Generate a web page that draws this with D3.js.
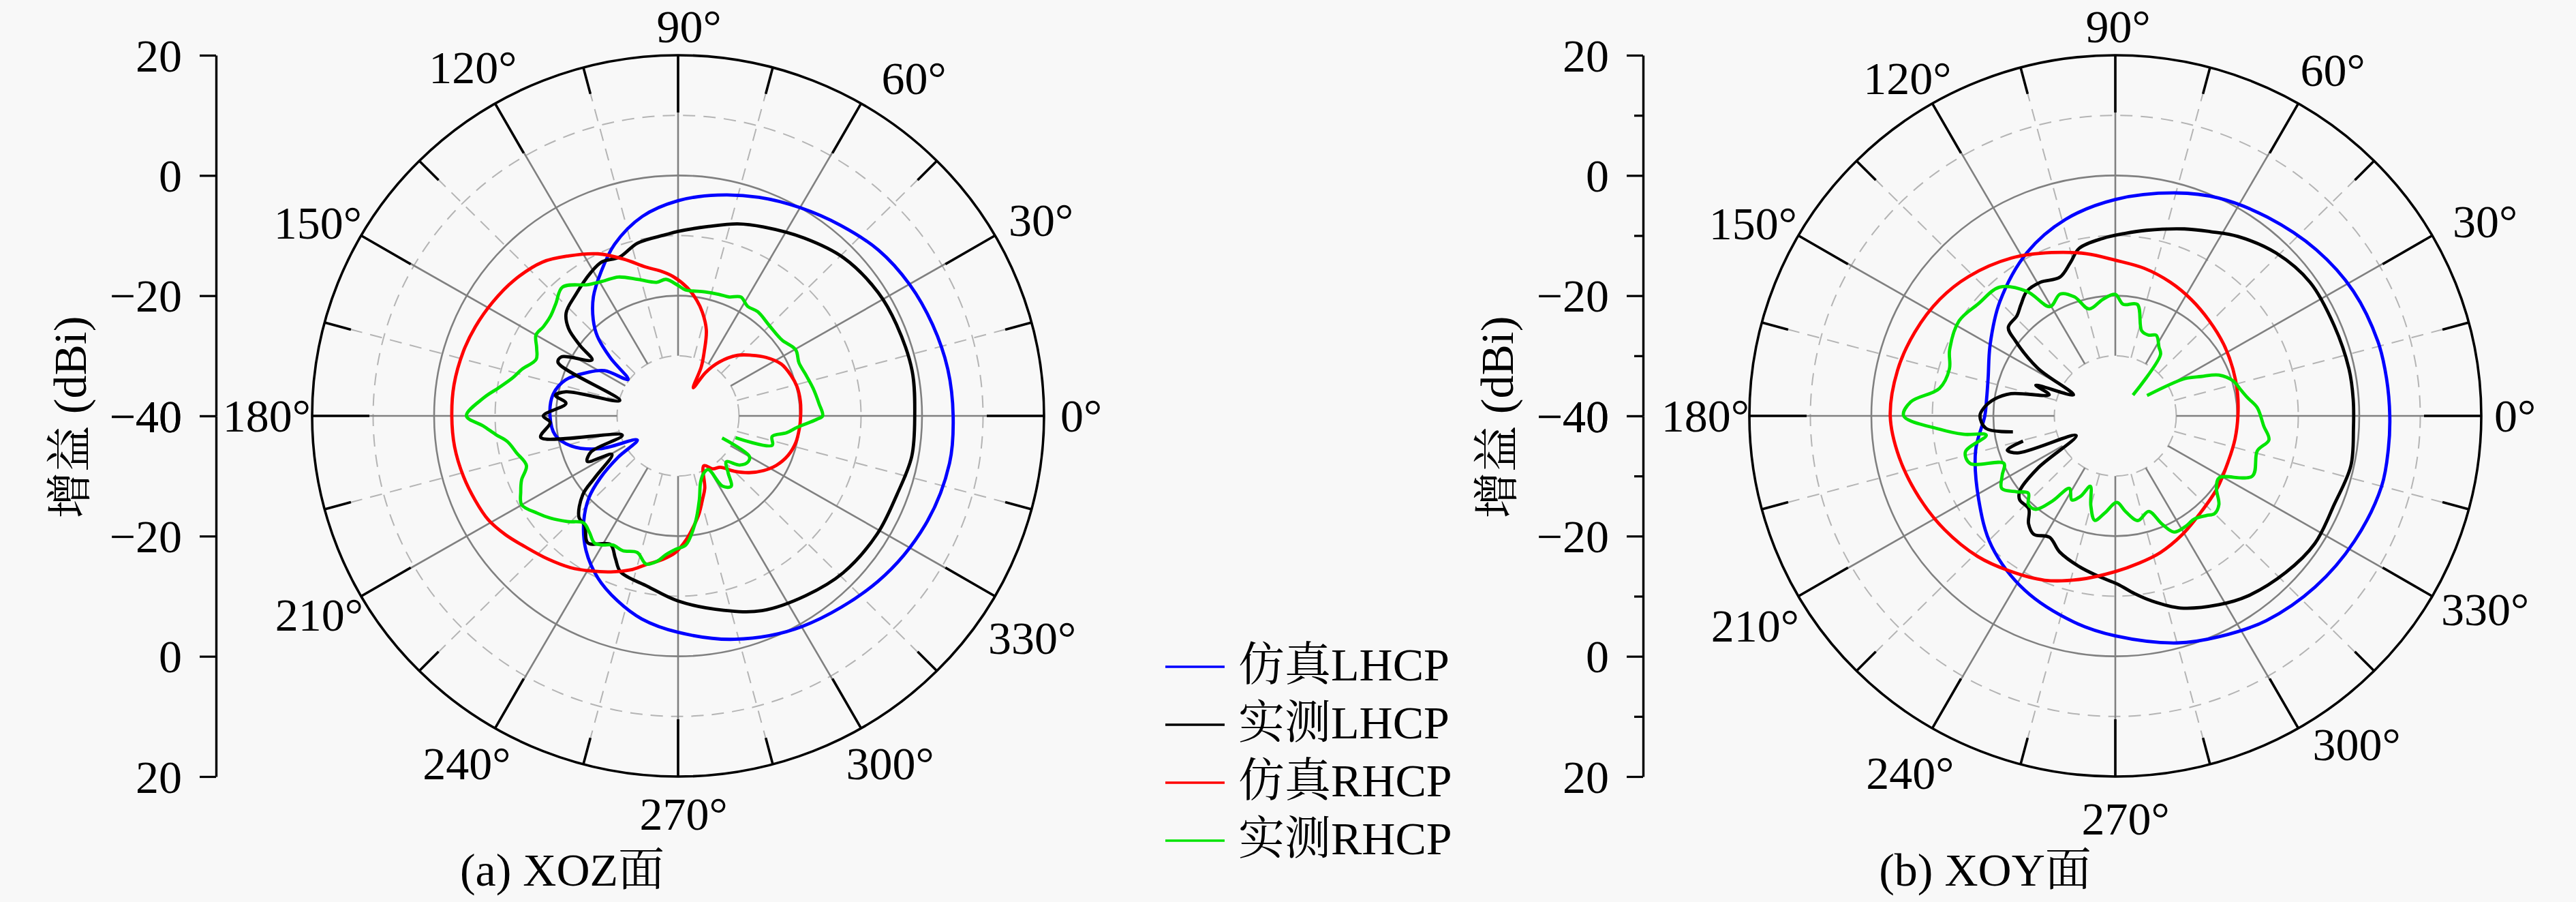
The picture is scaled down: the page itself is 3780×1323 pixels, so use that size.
<!DOCTYPE html>
<html>
<head>
<meta charset="utf-8">
<script src="https://cdn.jsdelivr.net/npm/d3@7/dist/d3.min.js"></script>
<style>
  html, body { margin: 0; padding: 0; background: #f8f8f8; }
  svg { display: block; }
  text { font-family: "Liberation Serif", "Noto Serif CJK SC", "Noto Sans CJK SC", serif; fill: #000; }
</style>
</head>
<body>
<svg id="chart" width="3780" height="1323"></svg>
<script>
// gain samples as [angle (deg), gain (dBi)], listed in drawing order
// measured traces are not closed: they start and stop where the record breaks

// (a) XOZ plane
var xozSimLHCP = [[0,5.1],[10,4.9],[20,4.4],[30,3.8],[40,2.9],[50,1.4],[60,0],[70,-1.3],[80,-2.7],[90,-4.2],
  [100,-6.3],[110,-9.6],[118,-13],[125,-15.8],[131,-18.8],[135,-21.3],[139,-25.3],[143.5,-29.8],[148,-25.8],
  [154,-23.5],[162,-20.6],[170,-19.2],[180,-19],[189,-19.6],[196,-21.8],[203,-26],[211,-32.2],[215,-28],
  [219,-23.6],[223,-20],[229,-16.4],[236,-13],[244,-10],[252,-7.7],[260,-5.7],[270,-4],[284,-1.7],[300,0.5],
  [320,2.8],[336,4.4],[350,5.2]];
var xozMeasLHCP = [[0,-1.2],[11,-0.9],[23,-1.1],[32,-1.3],[44,-2.2],[55,-3.9],[66,-5.6],[73,-6.6],[81,-8.1],
  [90,-9.3],[94,-9.8],[103,-10.5],[110,-11.9],[116,-11.5],[121,-12.2],[130,-13.8],[137,-14.9],[141,-16.9],
  [144,-20.2],[146.6,-23.1],[152.8,-18.5],[155.7,-18.4],[165,-30.1],[167.7,-21.2],[170.4,-19.6],[173.5,-21.5],
  [180,-17.9],[183,-19],[189,-17.2],[199.4,-30.3],[202.8,-24.5],[207,-23.3],[210.6,-27.4],[216.9,-23],
  [220,-19.6],[226,-16.6],[230,-16.2],[235,-14.2],[242.6,-15.9],[246.5,-14.2],[250,-12.4],[260,-11.2],
  [270,-9.2],[283,-6.8],[293,-4.8],[305,-3.5],[316,-2.4],[329,-1.9],[340,-1.8],[350,-1.1]];
var xozSimRHCP = [[0,-19.9],[7,-19.8],[14,-19.9],[20,-20.3],[27,-21],[34,-22.6],[40,-24.3],[46,-26],[53,-28.8],
  [58,-31.5],[62,-34.7],[65,-31],[68,-28.6],[72,-25],[77,-22.3],[81,-20.5],[86,-18.6],[92,-16.8],[97,-15.7],
  [102,-14.7],[109,-12.4],[116,-10],[124,-7.9],[131,-6.1],[140,-4.9],[148,-4.2],[156,-3.6],[163,-3.2],
  [172,-2.9],[180,-2.9],[188,-3],[196,-3.4],[203,-3.9],[209,-4.4],[215,-5.5],[221,-6.8],[228,-8],[235,-9.2],
  [241,-10.5],[247,-11.8],[253,-13.2],[258,-14.7],[264,-16],[269,-17.3],[274,-19.5],[278,-21.5],[282,-23.4],
  [286,-25.5],[290,-27.2],[297,-30.7],[303,-29.5],[309,-29],[315,-27],[321,-25],[327,-23.3],[333,-21.9],
  [340,-20.8],[347,-20.2],[354,-20]];
var xozMeasRHCP = [[339,-29.9],[342.4,-23.8],[347.5,-24.2],[351,-22],[354.4,-20.4],[358.5,-17.3],[0,-16.3],
  [5,-16.8],[11.8,-17.4],[18.5,-18],[24,-18.3],[29.7,-17.8],[36.5,-18.8],[45,-18.8],[53,-18.3],[58,-18.5],
  [62.5,-17.7],[67,-18.5],[71.6,-18.7],[78,-18.9],[86.7,-19],[90,-18.3],[95,-17.2],[99,-17.5],[106,-16.4],
  [113,-14.9],[118,-14.5],[123.8,-13.7],[131.5,-11.4],[137,-12.6],[141.5,-13.3],[146,-13.4],[150,-13.1],
  [154,-14.2],[158,-14.9],[163,-13.3],[167,-12.1],[171,-10.2],[174.6,-8],[180,-5.3],[183,-8],[186,-10],
  [188.7,-11.7],[193,-12.8],[198.4,-13.8],[202.6,-12.2],[206,-11.3],[210,-10.4],[215,-11.8],[219,-13],
  [224,-14.7],[229,-16.4],[233,-15.8],[237,-14.8],[240,-15.2],[243.5,-16],[248,-15.8],[253.6,-16.3],
  [258,-14.8],[262,-15.6],[265,-16.8],[269,-17.8],[273.4,-18.5],[279,-22],[284,-25.6],[288.6,-28.4],
  [294,-29.6],[299,-29.8],[302,-26.2],[306.6,-25.4],[311,-27.5],[316,-29],[321,-27],[326.6,-26.2],
  [330,-26.5],[333,-31.9]];

// (b) XOY plane
var xoySimLHCP = [[0,5],[8,4.9],[16,4.8],[28,4.2],[40,3],[53,1.4],[65,0],[75,-1.6],[90,-4],[104,-6.3],
  [118,-9.2],[135,-13.2],[150,-16.3],[163,-18.2],[172,-18.7],[180,-18.6],[194,-16.4],[212,-13.6],[227,-10.3],
  [243,-7.4],[259,-5],[270,-3.4],[285,-0.9],[295,0.5],[306,2.1],[319,3.4],[332,4.4],[345,5.2],[353,5.1]];
var xoyMeasLHCP = [[195.5,-24.3],[197.8,-21.4],[201,-22.8],[207,-32.8],[214.4,-24.6],[218.5,-20],[221.7,-19],
  [227.5,-19],[231.6,-17.1],[235.8,-16.2],[241.9,-17.1],[248,-15.6],[257,-14.2],[264,-13.2],[270.8,-12],
  [276,-10.3],[280.8,-8.7],[288.5,-6.3],[298.4,-4.3],[305.9,-3],[317,-1.8],[327,-1],[337.7,-1.2],[347.9,-0.5],
  [357,-0.9],[4,-0.9],[11.5,-0.9],[22.7,-1.1],[34.8,-1.1],[45.8,-2.2],[56,-4],[63,-5.6],[70,-6.9],
  [80.6,-8.7],[87,-9.6],[94,-10.4],[102,-11.5],[106,-13.4],[111.5,-15.2],[119,-14.6],[125,-14.7],
  [130,-15.9],[134,-16.8],[140,-17.1],[142.7,-19.4],[148,-25],[153,-32.3],[158.6,-26],[162,-28.6],
  [167.8,-22.5],[172,-20],[176.5,-18.4],[180,-17.8],[185.6,-18.7],[189,-23]];
var xoySimRHCP = [[0,-19.9],[11,-19.6],[22,-19.2],[34,-18.6],[46,-17.9],[57,-17],[68,-16],[79,-15],[90,-14.1],
  [100,-12.6],[111,-10.9],[123,-8.7],[136,-6.6],[146,-5.3],[157,-4.3],[168,-3.5],[180,-3.1],[191,-3.9],
  [203,-5.1],[214,-6.2],[226,-7.5],[236,-8.9],[247,-10.3],[258,-12.2],[270,-14.1],[279,-15.2],[288,-16.1],
  [299,-17.4],[310,-18.6],[324,-19.4],[338,-20],[349,-20]];
var xoyMeasRHCP = [[50,-35.5],[54,-27.4],[58,-26.5],[63.4,-25],[68,-25.5],[73,-25.2],[79,-21.1],[86,-21.4],
  [90,-19.8],[96,-20.5],[103.6,-21.7],[108.7,-19.1],[114,-17.8],[120.5,-18.9],[125,-14.7],[131.5,-11.4],
  [140.4,-10.8],[148.3,-9.9],[158,-10.7],[164,-11.7],[171,-10.8],[176,-6.4],[180,-5.3],[184.4,-11.1],
  [187,-14.9],[188.6,-18.6],[193.7,-14.7],[198.4,-14.9],[203.4,-20.1],[208,-19],[213,-17.8],[218,-19.5],
  [222,-20.8],[226,-19.5],[230,-19.7],[234,-22.5],[238,-25.8],[243,-24.3],[247,-25.5],[250.7,-27.6],
  [255,-24.5],[259,-22.3],[264,-23.8],[271,-25.6],[276,-24],[282,-22.2],[289,-23.2],[293,-20.5],
  [296.5,-18.4],[302,-18.3],[307,-18.5],[312,-17.7],[315,-17],[319,-17.5],[324,-19.5],[328.8,-20.1],
  [336,-15.4],[346,-16],[351,-14.5],[356,-15.6],[3.4,-16.7],[7.9,-18.1],[12,-19],[16.7,-19.8],[21.8,-21.7],
  [25,-24.5],[28.5,-27],[33,-33.8]];

var seriesNames = ['仿真LHCP', '实测LHCP', '仿真RHCP', '实测RHCP'];
var closedSeries = [true, true, true, false];      // per series, panel (a)
var closedSeriesB = [true, false, true, false];    // per series, panel (b)
var angleTicks = [0, 30, 60, 90, 120, 150, 180, 210, 240, 270, 300, 330];
var minorAngles = [15, 45, 75, 105, 135, 165, 195, 225, 255, 285, 315, 345];
var gainTicks = [-40, -20, 0, 20];
var gainMinor = [-30, -10, 10];
var gainMin = -40, gainMax = 20;

// styles / layout
var colors = ['#0000ff', '#000000', '#ff0000', '#00e400'];
var FS = 68;
var RX = 537, RY = 529, CY = 610;

var svg = d3.select('#chart');
svg.append('rect').attr('width', 3780).attr('height', 1323).attr('fill', '#f8f8f8');

var panels = [
  { caption: '(a) XOZ面', cx: 995, axisX: 317, capX: 825, minor: false,
    series: [xozSimLHCP, xozMeasLHCP, xozSimRHCP, xozMeasRHCP], closed: closedSeries,
    // label placement: [dx, dy(baseline), anchor] relative to the rim point
    nudge: { 0: [24, 23, 'start'], 30: [20, 0, 'start'], 60: [30, -14, 'start'], 90: [16, -19, 'middle'],
             120: [32, -30, 'end'], 150: [1, 4, 'end'], 180: [-2, 23, 'end'], 210: [3, 50, 'end'],
             240: [23, 75, 'end'], 270: [8, 78, 'middle'], 300: [-22, 75, 'start'], 330: [-10, 84, 'start'] } },
  { caption: '(b) XOY面', cx: 3104, axisX: 2411, capX: 2913, minor: true,
    series: [xoySimLHCP, xoyMeasLHCP, xoySimRHCP, xoyMeasRHCP], closed: closedSeriesB,
    nudge: { 0: [19, 23, 'start'], 30: [30, 2, 'start'], 60: [3, -26, 'start'], 90: [4, -19, 'middle'],
             120: [28, -14, 'end'], 150: [-2, 5, 'end'], 180: [0, 23, 'end'], 210: [1, 66, 'end'],
             240: [32, 89, 'end'], 270: [15, 85, 'middle'], 300: [21, 47, 'start'], 330: [13, 42, 'start'] } }
];

var rx = d3.scaleLinear().domain([gainMin, gainMax]).range([0, RX]);
var ry = d3.scaleLinear().domain([gainMin, gainMax]).range([0, RY]);
var fmt = function (d) { return d < 0 ? '\u2212' + Math.abs(d) : String(d); };

function point(p, v, deg) {
  var a = deg * Math.PI / 180;
  return [p.cx + rx(v) * Math.cos(a), CY - ry(v) * Math.sin(a)];
}

panels.forEach(function (p) {
  var g = svg.append('g');

  // grid circles
  [-30, -10, 10].forEach(function (v) {
    g.append('ellipse').attr('cx', p.cx).attr('cy', CY).attr('rx', rx(v)).attr('ry', ry(v))
      .attr('fill', 'none').attr('stroke', '#b4b4b4').attr('stroke-width', 2).attr('stroke-dasharray', '18,12');
  });
  [-20, 0].forEach(function (v) {
    g.append('ellipse').attr('cx', p.cx).attr('cy', CY).attr('rx', rx(v)).attr('ry', ry(v))
      .attr('fill', 'none').attr('stroke', '#808080').attr('stroke-width', 2.6);
  });

  // spokes
  minorAngles.forEach(function (a) {
    var s = point(p, -30, a), e = point(p, gainMax, a);
    g.append('line').attr('x1', s[0]).attr('y1', s[1]).attr('x2', e[0]).attr('y2', e[1])
      .attr('stroke', '#b4b4b4').attr('stroke-width', 2).attr('stroke-dasharray', '18,12');
  });
  angleTicks.forEach(function (a) {
    var s = point(p, -30, a), e = point(p, gainMax, a);
    g.append('line').attr('x1', s[0]).attr('y1', s[1]).attr('x2', e[0]).attr('y2', e[1])
      .attr('stroke', '#808080').attr('stroke-width', 2.6);
  });

  // outer rim and inward ticks
  g.append('ellipse').attr('cx', p.cx).attr('cy', CY).attr('rx', rx(gainMax)).attr('ry', ry(gainMax))
    .attr('fill', 'none').attr('stroke', '#000').attr('stroke-width', 3.6);
  function rimTick(a, len) {
    var e = point(p, gainMax, a);
    var r = Math.PI * a / 180;
    g.append('line').attr('x1', e[0]).attr('y1', e[1])
      .attr('x2', e[0] - len * Math.cos(r)).attr('y2', e[1] + len * Math.sin(r))
      .attr('stroke', '#000').attr('stroke-width', 3.6);
  }
  angleTicks.forEach(function (a) { rimTick(a, 84); });
  minorAngles.forEach(function (a) { rimTick(a, 40); });

  // angle labels
  angleTicks.forEach(function (a) {
    var e = point(p, gainMax, a), n = p.nudge[a];
    g.append('text').attr('x', e[0] + n[0]).attr('y', e[1] + n[1])
      .attr('text-anchor', n[2]).attr('font-size', FS).text(a + '°');
  });

  // traces
  p.series.forEach(function (data, i) {
    var line = d3.line()
      .x(function (d) { return point(p, d[1], d[0])[0]; })
      .y(function (d) { return point(p, d[1], d[0])[1]; })
      .curve(p.closed[i] ? d3.curveCatmullRomClosed.alpha(0.5) : d3.curveCatmullRom.alpha(0.5));
    g.append('path').datum(data).attr('d', line)
      .attr('fill', 'none').attr('stroke', colors[i]).attr('stroke-width', 4.8)
      .attr('stroke-linejoin', 'round');
  });

  // radial gain axis on the left, mirrored about the centre
  var up = d3.scaleLinear().domain([gainMin, gainMax]).range([CY, CY - RY]);
  var down = d3.scaleLinear().domain([gainMin, gainMax]).range([CY, CY + RY]);
  [up, down].forEach(function (sc) {
    var ax = g.append('g').attr('transform', 'translate(' + p.axisX + ',0)')
      .call(d3.axisLeft(sc).tickValues(gainTicks).tickFormat(fmt).tickSize(24).tickSizeOuter(0).tickPadding(26));
    ax.attr('font-family', null).attr('font-size', null);
    ax.selectAll('path').attr('stroke-width', 3.4);
    ax.selectAll('line').attr('stroke-width', 3.2);
    ax.selectAll('text').attr('font-size', FS).attr('dy', '0.34em');
    if (p.minor) {
      var mx = g.append('g').attr('transform', 'translate(' + p.axisX + ',0)')
        .call(d3.axisLeft(sc).tickValues(gainMinor).tickFormat('').tickSize(13).tickSizeOuter(0));
      mx.select('path').remove();
      mx.selectAll('line').attr('stroke-width', 3.2);
    }
  });

  g.append('text')
    .attr('transform', 'translate(' + (p.axisX - 191) + ',' + 612 + ') rotate(-90)')
    .attr('text-anchor', 'middle').attr('font-size', FS).text('增益 (dBi)');

  g.append('text').attr('x', p.capX).attr('y', 1299).attr('text-anchor', 'middle')
    .attr('font-size', FS).text(p.caption);
});

// legend
var legend = svg.append('g').attr('transform', 'translate(1710,978)');
seriesNames.forEach(function (name, i) {
  var row = legend.append('g').attr('transform', 'translate(0,' + (i * 85) + ')');
  row.append('line').attr('x1', 0).attr('x2', 87).attr('y1', 0).attr('y2', 0)
    .attr('stroke', colors[i]).attr('stroke-width', 3.6);
  row.append('text').attr('x', 107).attr('y', 20).attr('font-size', FS).text(name);
});
</script>
</body>
</html>
